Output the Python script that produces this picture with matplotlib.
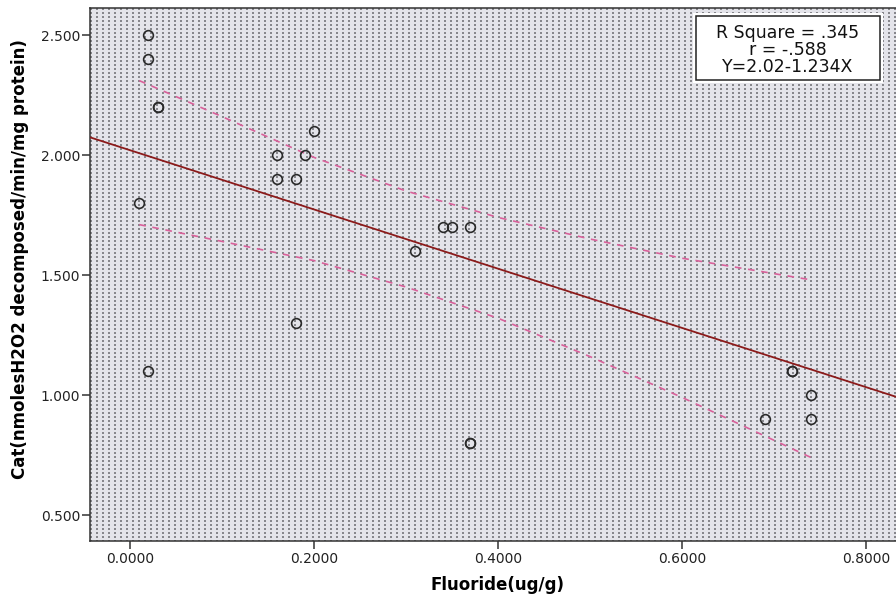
import numpy as np
import matplotlib
matplotlib.use("Agg")
import matplotlib.pyplot as plt
from matplotlib.patches import Rectangle
from matplotlib.ticker import FormatStrFormatter

# fluoride (ug/g) vs catalase activity
fluoride = [0.02, 0.02, 0.03, 0.03, 0.01, 0.02, 0.16, 0.16, 0.18, 0.19, 0.20,
            0.18, 0.31, 0.34, 0.35, 0.37, 0.37, 0.37, 0.69, 0.72, 0.72, 0.74, 0.74]
catalase = [2.5, 2.4, 2.2, 2.2, 1.8, 1.1, 2.0, 1.9, 1.9, 2.0, 2.1,
            1.3, 1.6, 1.7, 1.7, 1.7, 0.8, 0.8, 0.9, 1.1, 1.1, 1.0, 0.9]

# fitted line as printed in the chart
intercept = 2.02
slope = -1.234
r_square = ".345"
r_value = "-.588"

# 95% band of the mean, read at a few x positions
ci_x = [0.01, 0.10, 0.20, 0.30, 0.40, 0.50, 0.60, 0.74]
ci_upper = [2.31, 2.16, 1.99, 1.85, 1.74, 1.65, 1.57, 1.48]
ci_lower = [1.71, 1.64, 1.56, 1.45, 1.32, 1.16, 0.99, 0.74]

x_ticks = [0.0, 0.2, 0.4, 0.6, 0.8]
y_ticks = [0.5, 1.0, 1.5, 2.0, 2.5]
x_lim = (-0.0435, 0.8424)
y_lim = (0.3917, 2.6125)

W, H = 896, 600
fig = plt.figure(figsize=(W / 100, H / 100), dpi=100)
ax_l, ax_r, ax_t, ax_b = 90, 905, 8, 541
ax = fig.add_axes([ax_l / W, 1 - ax_b / H, (ax_r - ax_l) / W, (ax_b - ax_t) / H])

# SPSS style dotted background
pw, ph = ax_r - ax_l, ax_b - ax_t
bg = np.empty((ph, pw, 3))
bg[:] = np.array([228, 228, 234]) / 255
rows = (np.arange(ph) % 4) < 2
cols = (np.arange(pw) % 6) < 2
bg[np.outer(rows, cols)] = np.array([135, 135, 140]) / 255
ax.imshow(bg, extent=(x_lim[0], x_lim[1], y_lim[0], y_lim[1]),
          aspect="auto", interpolation="nearest", zorder=0)

ax.set_xlim(*x_lim)
ax.set_ylim(*y_lim)

xs = np.array(x_lim)
ax.plot(xs, intercept + slope * xs, color="#8b1a1a", lw=1.3, zorder=3)
ax.plot(ci_x, ci_upper, color="#d9609a", lw=1.2, dashes=(4, 4), zorder=3)
ax.plot(ci_x, ci_lower, color="#d9609a", lw=1.2, dashes=(4, 4), zorder=3)
ax.plot(fluoride, catalase, "o", ms=7, mfc="none", mec="#2a2a2a", mew=1.2,
        zorder=4)

ax.set_xticks(x_ticks)
ax.set_yticks(y_ticks)
ax.xaxis.set_major_formatter(FormatStrFormatter("%.4f"))
ax.yaxis.set_major_formatter(FormatStrFormatter("%.3f"))
ax.tick_params(direction="out", length=6, width=1.1, color="#333333",
               labelcolor="#222222", labelsize=10, pad=2)
ax.tick_params(axis="y", pad=1)
for side in ("left", "bottom", "top", "right"):
    ax.spines[side].set_linewidth(1.1)
    ax.spines[side].set_color("#333333")

ax.set_xlabel("Fluoride(ug/g)", fontsize=12, fontweight="bold", va="center")
ax.set_ylabel("Cat(nmolesH2O2 decomposed/min/mg protein)", fontsize=12,
              fontweight="bold", va="center")
ax.xaxis.set_label_coords((497 - ax_l) / pw, (ax_b - 585) / ph)
ax.yaxis.set_label_coords((20 - ax_l) / pw, (ax_b - 259) / ph)

# annotation box
def frac(px, py):
    return (px - ax_l) / pw, (ax_b - py) / ph

x0, y0 = frac(693, 83)
x1, y1 = frac(883, 13)
ax.add_patch(Rectangle((x0, y0), x1 - x0, y1 - y0, transform=ax.transAxes,
                       facecolor="white", edgecolor="none", zorder=5))
x0, y0 = frac(696, 80)
x1, y1 = frac(880, 16)
ax.add_patch(Rectangle((x0, y0), x1 - x0, y1 - y0, transform=ax.transAxes,
                       facecolor="white", edgecolor="#222222", lw=1.1, zorder=6))
tx, ty = frac(788, 50)
ax.text(tx, ty, f"R Square = {r_square}\nr = {r_value}\nY={intercept}{slope}X",
        transform=ax.transAxes, ha="center", va="center", multialignment="center",
        fontsize=12.5, linespacing=0.95, color="#111111", zorder=7)

fig.savefig("out.png", dpi=100)
